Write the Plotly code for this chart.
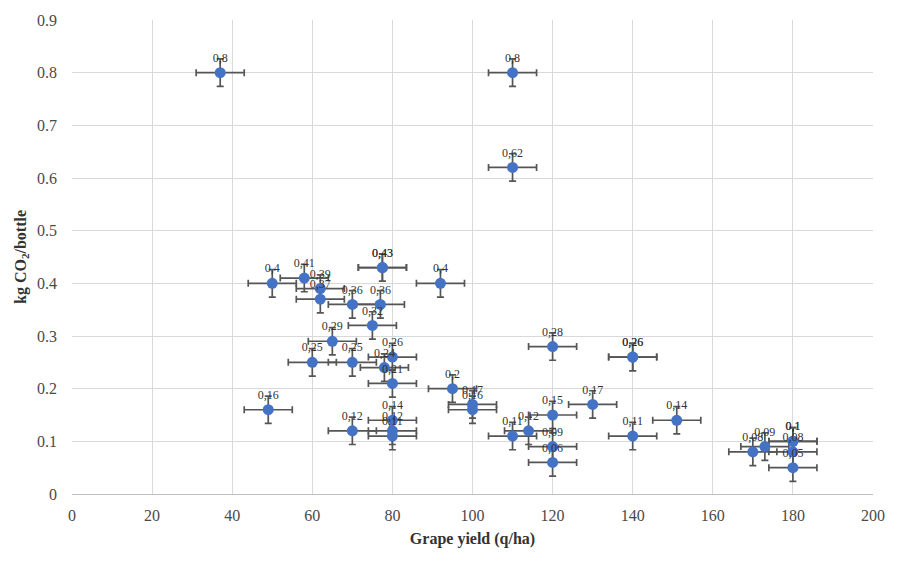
import plotly.graph_objects as go

# Grape yield (q/ha) and kg CO2/bottle
yield_qha = [37, 110, 110, 50, 58, 62, 62, 70, 77, 77.5, 77.5, 92, 75, 65, 60, 70,
             80, 78, 80, 95, 100, 100, 49, 70, 80, 80, 80, 110, 114, 120, 120, 120,
             130, 140, 140, 140, 151, 120, 170, 173, 180, 180, 180, 180]
co2_bottle = [0.8, 0.8, 0.62, 0.4, 0.41, 0.39, 0.37, 0.36, 0.36, 0.43, 0.43, 0.4, 0.32, 0.29, 0.25, 0.25,
              0.26, 0.24, 0.21, 0.2, 0.17, 0.16, 0.16, 0.12, 0.14, 0.12, 0.11, 0.11, 0.12, 0.15, 0.09, 0.06,
              0.17, 0.26, 0.26, 0.11, 0.14, 0.28, 0.08, 0.09, 0.1, 0.1, 0.08, 0.05]
x_err = 6
y_err = 0.026
labels = [f"{v:g}".replace(".", ",") for v in co2_bottle]

x_ticks = [0, 20, 40, 60, 80, 100, 120, 140, 160, 180, 200]
y_ticks = [0, 0.1, 0.2, 0.3, 0.4, 0.5, 0.6, 0.7, 0.8, 0.9]

serif = "Liberation Serif"

fig = go.Figure()
fig.add_trace(go.Scatter(
    x=yield_qha, y=co2_bottle,
    mode="markers+text",
    text=labels,
    textposition="top center",
    textfont=dict(family=serif, size=12, color="#333333"),
    marker=dict(size=11, color="#4472C4"),
    error_x=dict(type="constant", value=x_err, color="#555555", thickness=1.7, width=3.5),
    error_y=dict(type="constant", value=y_err, color="#555555", thickness=1.7, width=3.5),
    showlegend=False,
    cliponaxis=False,
))

fig.update_layout(
    width=897, height=562,
    margin=dict(l=72, r=23, t=13, b=68),
    paper_bgcolor="white", plot_bgcolor="white",
    font=dict(family=serif, color="#4a4a4a", size=16),
    xaxis=dict(
        range=[0, 200], tickvals=x_ticks, ticktext=[str(t) for t in x_ticks],
        showgrid=True, gridcolor="#d9d9d9", gridwidth=1,
        zeroline=False, showline=True, linecolor="#bfbfbf", linewidth=1,
        ticks="", ticklabelstandoff=7,
        title=dict(text="<b>Grape yield (q/ha)</b>", font=dict(family=serif, size=16, color="#333333"), standoff=9),
    ),
    yaxis=dict(
        range=[0, 0.9], tickvals=y_ticks, ticktext=[f"{t:g}" for t in y_ticks],
        showgrid=True, gridcolor="#d9d9d9", gridwidth=1,
        zeroline=False, showline=False,
        ticks="", ticklabelstandoff=14,
        title=dict(text="<b>kg CO<sub>2</sub>/bottle</b>", font=dict(family=serif, size=16, color="#333333"), standoff=6),
    ),
)

fig.write_html("out.html")
